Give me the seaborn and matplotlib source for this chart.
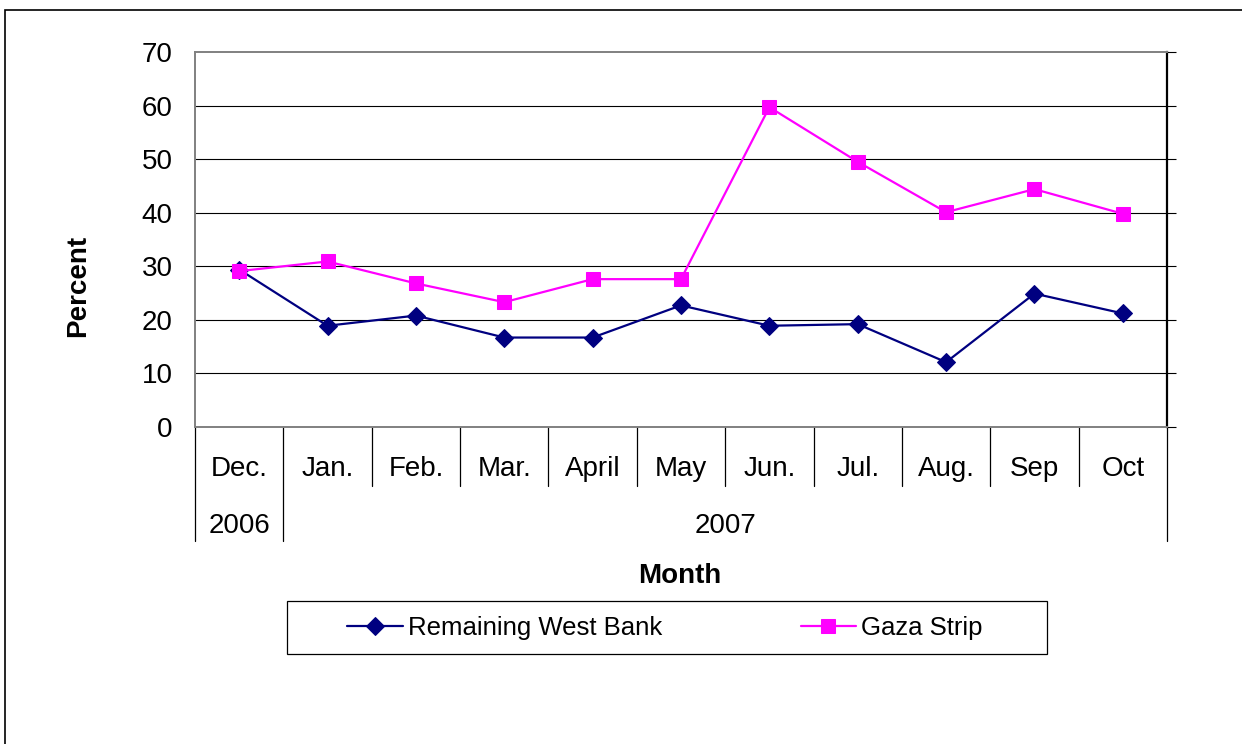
import numpy as np
import pandas as pd
import matplotlib
matplotlib.use("Agg")
import matplotlib.pyplot as plt
import matplotlib.transforms as mtransforms
from matplotlib.lines import Line2D
from matplotlib.patches import Rectangle
import seaborn as sns

# data
months = ["Dec.", "Jan.", "Feb.", "Mar.", "April", "May", "Jun.", "Jul.", "Aug.", "Sep", "Oct"]
years = ["2006", "2007"]
year_counts = [1, 10]  # months under each year
west_bank = [29.4, 18.9, 20.8, 16.7, 16.7, 22.7, 18.9, 19.2, 12.1, 24.9, 21.2]
gaza = [29.1, 30.9, 26.8, 23.3, 27.6, 27.6, 59.7, 49.5, 40.1, 44.4, 39.8]
yticks = [0, 10, 20, 30, 40, 50, 60, 70]

sns.set_style("white")
plt.rcParams["font.family"] = ["Liberation Sans", "DejaVu Sans"]
plt.rcParams["text.color"] = "black"
plt.rcParams["axes.labelcolor"] = "black"
plt.rcParams["xtick.color"] = "black"
plt.rcParams["ytick.color"] = "black"

W, H = 1242, 744
fig = plt.figure(figsize=(W / 100, H / 100), dpi=100)
# plot area in pixel terms of the reference
L, R, T, B = 195, 1167, 52, 427
ax = fig.add_axes([L / W, 1 - B / H, (R - L) / W, (B - T) / H])

df_wb = pd.DataFrame({"Month": months, "Percent": west_bank})
df_gz = pd.DataFrame({"Month": months, "Percent": gaza})

sns.lineplot(data=df_wb, x="Month", y="Percent", ax=ax, color="#000080", marker="D",
             markersize=9, markeredgecolor="#000080", linewidth=1.6, label="Remaining West Bank",
             sort=False)
sns.lineplot(data=df_gz, x="Month", y="Percent", ax=ax, color="#FF00FF", marker="s",
             markersize=9.5, markeredgecolor="#FF00FF", linewidth=1.6, label="Gaza Strip",
             sort=False)

ax.set_xlim(-0.5, len(months) - 0.5)
ax.set_ylim(0, 70)
ax.set_yticks(yticks)
ax.set_yticklabels([str(v) for v in yticks], fontsize=20)

# gridlines, skip the 0 and 70 ones (they are the border)
ax.set_axisbelow(True)
ax.yaxis.grid(True, color="black", linewidth=0.8)
glines = ax.yaxis.get_gridlines()
glines[0].set_visible(False)
glines[-1].set_visible(False)

ax.tick_params(axis="y", left=False, right=True, labelleft=True, labelright=False,
               direction="out", length=6.5, width=0.8, color="black", pad=9.5)

for side in ["left", "top", "bottom"]:
    ax.spines[side].set_color("#808080")
    ax.spines[side].set_linewidth(1.4)
ax.spines["right"].set_color("black")
ax.spines["right"].set_linewidth(1.6)

# month labels on the category axis
ax.set_xticks(range(len(months)))
ax.set_xticklabels(months, fontsize=20)
ax.tick_params(axis="x", length=0, pad=21)

# category separators and year row
trans = mtransforms.blended_transform_factory(ax.transData, ax.transAxes)
row1 = -59 / (B - T)
row2 = -114 / (B - T)
bounds = np.cumsum([0] + year_counts) - 0.5
for i in range(len(months) + 1):
    xpos = i - 0.5
    ybot = row2 if xpos in bounds else row1
    ax.add_line(Line2D([xpos, xpos], [0, ybot], transform=trans, color="black",
                       linewidth=0.9, clip_on=False))
for yr, a, b in zip(years, bounds[:-1], bounds[1:]):
    ax.text((a + b) / 2, -99 / (B - T), yr, transform=trans, ha="center", va="center",
            fontsize=20)

ax.set_ylabel("Percent", fontsize=20, fontweight="bold")
ax.yaxis.set_label_coords((91 - L) / (R - L), (B - 286) / (B - T))
ax.set_xlabel("Month", fontsize=20, fontweight="bold")
ax.xaxis.set_label_coords((680 - L) / (R - L), -(576 - B) / (B - T))
ax.xaxis.label.set_va("center")

# legend with box
handles, labels = ax.get_legend_handles_labels()
ax.get_legend().remove()
fig.legend(handles, labels, loc="center", bbox_to_anchor=(665 / W, 1 - 627.5 / H),
           ncol=2, frameon=False, fontsize=18.5, handlelength=2.15, handletextpad=0.2,
           columnspacing=5.4)
fig.add_artist(Rectangle((287 / W, 1 - 654 / H), 760 / W, 53 / H, transform=fig.transFigure,
                         fill=False, edgecolor="black", linewidth=0.9))

# outer chart border (runs off the right and bottom edges)
fig.add_artist(Rectangle((5 / W, -0.5), 2.0, (1 - 10 / H) + 0.5, transform=fig.transFigure,
                         fill=False, edgecolor="black", linewidth=1.2))

fig.savefig("out.png", dpi=100)
